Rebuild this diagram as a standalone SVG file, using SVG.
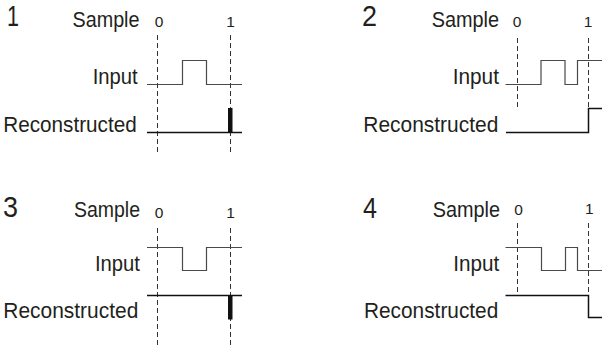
<svg xmlns="http://www.w3.org/2000/svg" width="602" height="347" viewBox="0 0 602 347">
<style>
text{font-family:"Liberation Sans",Arial,sans-serif;fill:#231f20}
.num{font-size:29px}
.lbl{font-size:22px}
.tick{font-size:15.5px;text-anchor:middle}
.dash{stroke:#333;stroke-width:1;stroke-dasharray:5 3;fill:none}
.sig{stroke:#4a4a4a;stroke-width:1.2;fill:none}
.rec{stroke:#111;stroke-width:1.5;fill:none}
.bar{fill:#111}
</style>
<rect width="602" height="347" fill="#fff"/>
<g id="panel1">
<text class="num" x="7" y="26" textLength="12" lengthAdjust="spacingAndGlyphs">1</text>
<text class="lbl" x="72.5" y="26.5" textLength="67" lengthAdjust="spacingAndGlyphs">Sample</text>
<text class="lbl" x="92.7" y="84" textLength="45" lengthAdjust="spacingAndGlyphs">Input</text>
<text class="lbl" x="3.3" y="131.5" textLength="133.4" lengthAdjust="spacingAndGlyphs">Reconstructed</text>
<text class="tick" x="159" y="26.5">0</text>
<text class="tick" x="230.5" y="26.5">1</text>
<line class="dash" x1="157.5" y1="35" x2="157.5" y2="155"/>
<line class="dash" x1="230.5" y1="35" x2="230.5" y2="155"/>
<path class="sig" d="M147,84.5 H182.5 V60.5 H206.5 V84.5 H242"/>
<path class="rec" d="M147,132.5 H242"/>
<rect class="bar" x="228" y="108" width="4.5" height="24.5"/>
</g>
<g id="panel2">
<text class="num" x="362" y="26" textLength="15" lengthAdjust="spacingAndGlyphs">2</text>
<text class="lbl" x="431.7" y="26.5" textLength="67.3" lengthAdjust="spacingAndGlyphs">Sample</text>
<text class="lbl" x="452.7" y="84" textLength="46.3" lengthAdjust="spacingAndGlyphs">Input</text>
<text class="lbl" x="363.3" y="131.5" textLength="135" lengthAdjust="spacingAndGlyphs">Reconstructed</text>
<text class="tick" x="517" y="26.5">0</text>
<text class="tick" x="588" y="26.5">1</text>
<line class="dash" x1="517.5" y1="38" x2="517.5" y2="107"/>
<line class="dash" x1="588.5" y1="38" x2="588.5" y2="108"/>
<path class="sig" d="M505.5,84.5 H541 V60.5 H565 V84.5 H577.5 V60.5 H602"/>
<path class="rec" d="M506,132.5 H588.5 V108.5 H602"/>
</g>
<g id="panel3">
<text class="num" x="3" y="217" textLength="15" lengthAdjust="spacingAndGlyphs">3</text>
<text class="lbl" x="74" y="217" textLength="66" lengthAdjust="spacingAndGlyphs">Sample</text>
<text class="lbl" x="95" y="270.5" textLength="45" lengthAdjust="spacingAndGlyphs">Input</text>
<text class="lbl" x="3.3" y="318" textLength="135" lengthAdjust="spacingAndGlyphs">Reconstructed</text>
<text class="tick" x="159" y="218">0</text>
<text class="tick" x="230.5" y="218">1</text>
<line class="dash" x1="157.5" y1="228" x2="157.5" y2="347"/>
<line class="dash" x1="230.5" y1="228" x2="230.5" y2="347"/>
<path class="sig" d="M147,247.5 H182.5 V270.5 H206.5 V247.5 H242"/>
<path class="rec" d="M147,295.5 H242"/>
<rect class="bar" x="228" y="295.5" width="4.5" height="24"/>
</g>
<g id="panel4">
<text class="num" x="363" y="217.5" textLength="14" lengthAdjust="spacingAndGlyphs">4</text>
<text class="lbl" x="432.7" y="217" textLength="67.3" lengthAdjust="spacingAndGlyphs">Sample</text>
<text class="lbl" x="453.3" y="271" textLength="46" lengthAdjust="spacingAndGlyphs">Input</text>
<text class="lbl" x="364" y="318" textLength="134.3" lengthAdjust="spacingAndGlyphs">Reconstructed</text>
<text class="tick" x="518.5" y="215">0</text>
<text class="tick" x="589.3" y="213.5">1</text>
<line class="dash" x1="517.5" y1="223" x2="517.5" y2="295"/>
<line class="dash" x1="588.5" y1="223" x2="588.5" y2="295"/>
<path class="sig" d="M505.5,247.5 H541.5 V270.5 H565.5 V247.5 H577.5 V270.5 H602"/>
<path class="rec" d="M505.5,295.5 H588.5 V317.5 H602"/>
</g>
</svg>
